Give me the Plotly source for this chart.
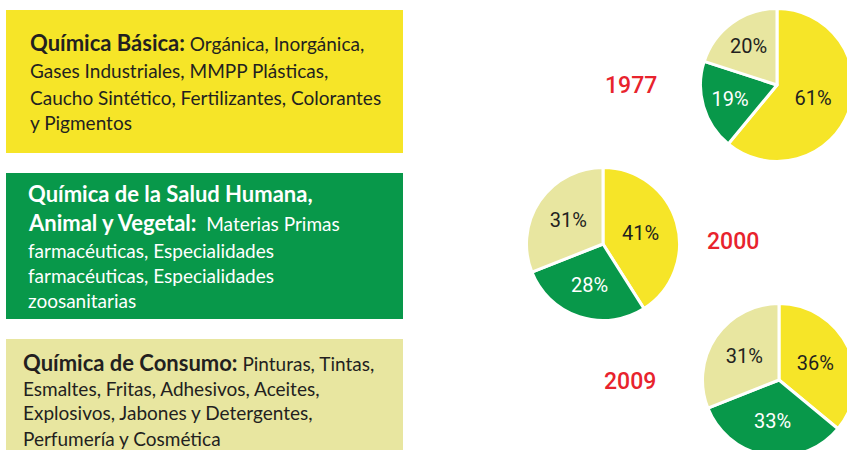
import plotly.graph_objects as go

# ---------------- data ----------------
categories = ["Química Básica", "Química de la Salud Humana, Animal y Vegetal", "Química de Consumo"]
years = ["1977", "2000", "2009"]
share_1977 = [61, 19, 20]
share_2000 = [41, 28, 31]
share_2009 = [36, 33, 31]

box1_lines = ["<b><span style='font-size:22px'>Química Básica:</span></b> Orgánica, Inorgánica,",
              "Gases Industriales, MMPP Plásticas,",
              "Caucho Sintético, Fertilizantes, Colorantes",
              "y Pigmentos"]
box2_lines = ["<b><span style='font-size:22px'>Química de la Salud Humana,</span></b>",
              "<b><span style='font-size:22px'>Animal y Vegetal:</span></b>  Materias Primas",
              "farmacéuticas, Especialidades",
              "farmacéuticas, Especialidades",
              "zoosanitarias"]
box3_lines = ["<b><span style='font-size:22px'>Química de Consumo:</span></b> Pinturas, Tintas,",
              "Esmaltes, Fritas, Adhesivos, Aceites,",
              "Explosivos, Jabones y Detergentes,",
              "Perfumería y Cosmética"]

# ---------------- style ----------------
YELLOW = "#F6E528"
GREEN = "#08984A"
PALE = "#E8E6A0"
RED = "#E8232D"
DARK = "#231F20"
colors = [YELLOW, GREEN, PALE]
text_colors = [DARK, "white", DARK]

W, H = 870, 470  # slightly larger than the viewport so pies can bleed off the edge


def px_x(x):
    return x / W


def px_y(y):
    return 1 - y / H


fig = go.Figure()

pie_specs = [(share_1977, 777, 85), (share_2000, 603, 244), (share_2009, 779, 380)]
R = 76.5
for vals, cx, cy in pie_specs:
    fig.add_trace(go.Pie(
        labels=categories, values=vals, sort=False, direction="clockwise", rotation=0,
        marker=dict(colors=colors, line=dict(color="white", width=3)),
        texttemplate="%{value}%", textposition="inside", insidetextorientation="horizontal",
        textfont=dict(family="Roboto", size=20, color=text_colors),
        hoverinfo="skip", showlegend=False,
        domain=dict(x=[px_x(cx - R), px_x(cx + R)], y=[px_y(cy + R), px_y(cy - R)]),
    ))

shapes = []
box_specs = [(10, 153, YELLOW), (173, 319, GREEN), (339, H, PALE)]
for y0, y1, c in box_specs:
    shapes.append(dict(type="rect", xref="paper", yref="paper",
                       x0=px_x(6), x1=px_x(403), y0=px_y(y1), y1=px_y(y0),
                       fillcolor=c, line=dict(width=0), layer="below"))

annotations = []
box_text = [(box1_lines, 28, [43, 70, 97, 122], DARK),
            (box2_lines, 26, [193, 223, 250, 275, 300], "white"),
            (box3_lines, 21, [362, 388, 412, 438], DARK)]
for lines, x0, ys, col in box_text:
    for line, y in zip(lines, ys):
        annotations.append(dict(text=line, x=px_x(x0), y=px_y(y), xref="paper", yref="paper",
                                xanchor="left", yanchor="middle", showarrow=False,
                                font=dict(family="Lato", size=19, color=col)))

year_pos = [(631, 86), (733, 242), (630, 381)]
for yr, (x, y) in zip(years, year_pos):
    annotations.append(dict(text=yr, x=px_x(x), y=px_y(y), xref="paper", yref="paper",
                            xanchor="center", yanchor="middle", showarrow=False,
                            font=dict(family="Roboto", size=23, weight=500, color=RED)))

fig.update_layout(width=W, height=H, margin=dict(l=0, r=0, t=0, b=0),
                  paper_bgcolor="white", plot_bgcolor="white",
                  shapes=shapes, annotations=annotations)

fig.write_html("out.html", config={"displayModeBar": False},
               post_script="document.body.style.margin='0';document.body.style.overflow='hidden';")
